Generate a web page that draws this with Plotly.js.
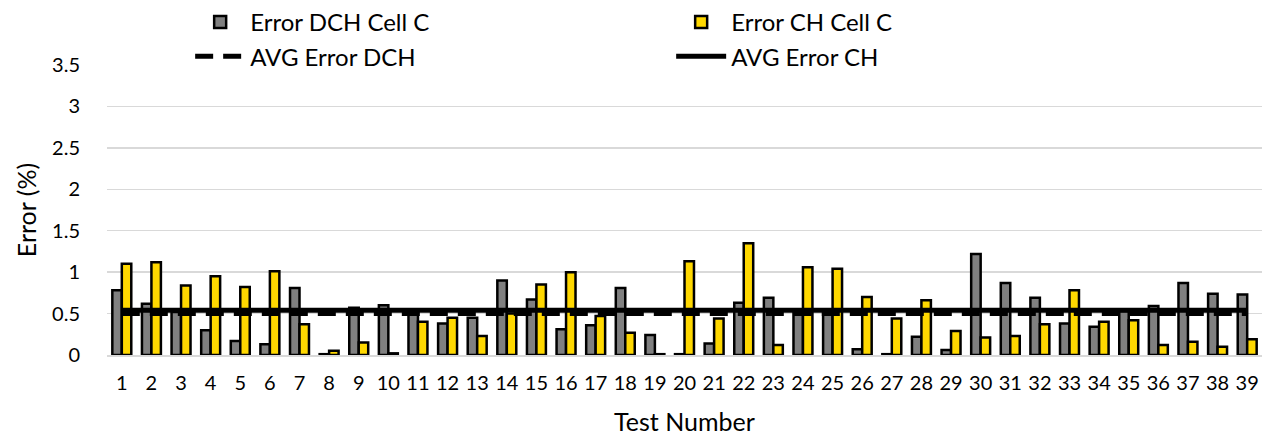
<!DOCTYPE html>
<html>
<head>
<meta charset="utf-8">
<script src="https://cdn.plot.ly/plotly-3.0.1.min.js"></script>
<style>
  html, body { margin: 0; padding: 0; background: #ffffff; }
  #chart { width: 1269px; height: 437px; }
</style>
</head>
<body>
<div id="chart"></div>
<script>
const tests = ['1','2','3','4','5','6','7','8','9','10','11','12','13','14','15','16','17','18','19','20',
  '21','22','23','24','25','26','27','28','29','30','31','32','33','34','35','36','37','38','39'];
const errorDCH = [0.78,0.62,0.52,0.30,0.17,0.13,0.81,0.01,0.57,0.60,
  0.53,0.38,0.45,0.90,0.67,0.31,0.36,0.81,0.24,0.01,
  0.14,0.63,0.69,0.53,0.53,0.07,0.01,0.22,0.06,1.22,
  0.87,0.69,0.38,0.34,0.53,0.59,0.87,0.74,0.73];
const errorCH = [1.10,1.12,0.84,0.95,0.82,1.01,0.37,0.05,0.15,0.02,
  0.40,0.45,0.23,0.50,0.85,1.00,0.47,0.27,0.01,1.13,
  0.44,1.35,0.12,1.06,1.04,0.70,0.44,0.66,0.29,0.21,
  0.23,0.37,0.78,0.40,0.42,0.12,0.16,0.10,0.19];
const avgDCH = 0.50;
const avgCH = 0.54;
const yTicks = [0, 0.5, 1, 1.5, 2, 2.5, 3, 3.5];
const yTickText = ['0', '0.5', '1', '1.5', '2', '2.5', '3', '3.5'];

const FONT = 'Lato, Carlito, sans-serif';

const traces = [
  { type: 'bar', name: 'Error DCH Cell C', x: tests, y: errorDCH,
    marker: { color: '#808080', line: { color: '#000000', width: 2.5 } } },
  { type: 'bar', name: 'Error CH Cell C', x: tests, y: errorCH,
    marker: { color: '#FFD800', line: { color: '#000000', width: 2.5 } } },
  { type: 'scatter', mode: 'lines', name: 'AVG Error DCH', x: tests, y: tests.map(() => avgDCH),
    line: { color: '#000000', width: 5, dash: '18px,10px' } },
  { type: 'scatter', mode: 'lines', name: 'AVG Error CH', x: tests, y: tests.map(() => avgCH),
    line: { color: '#000000', width: 5 } }
];

const layout = {
  width: 1269, height: 437,
  margin: { l: 107, r: 7, t: 65, b: 82, autoexpand: false },
  paper_bgcolor: '#ffffff', plot_bgcolor: '#ffffff',
  font: { family: FONT, size: 20, color: '#000000' },
  barmode: 'group', bargap: 0.36, bargroupgap: 0,
  showlegend: true,
  legend: {
    orientation: 'h', x: 0.072, xref: 'paper', y: 1.0, yref: 'container', yanchor: 'top',
    entrywidth: 416, entrywidthmode: 'pixels', traceorder: 'normal',
    font: { family: FONT, size: 24, color: '#000000' },
    itemwidth: 50, tracegroupgap: 0, bgcolor: 'rgba(0,0,0,0)'
  },
  xaxis: {
    type: 'category', showgrid: false, zeroline: false,
    showline: true, linecolor: '#d9d9d9', linewidth: 2,
    ticks: 'outside', ticklen: 9, tickcolor: 'rgba(0,0,0,0)',
    tickfont: { family: FONT, size: 20 },
    title: { text: 'Test Number', font: { family: FONT, size: 25 }, standoff: 20 }
  },
  yaxis: {
    range: [0, 3.5], tickvals: yTicks, ticktext: yTickText,
    showgrid: true, gridcolor: '#d9d9d9', gridwidth: 1.5, zeroline: false,
    ticks: 'outside', ticklen: 22, tickcolor: 'rgba(0,0,0,0)',
    tickfont: { family: FONT, size: 20 },
    title: { text: 'Error (%)', font: { family: FONT, size: 25 }, standoff: 8 }
  }
};

Plotly.newPlot('chart', traces, layout, { displayModeBar: false, staticPlot: true });
</script>
</body>
</html>
